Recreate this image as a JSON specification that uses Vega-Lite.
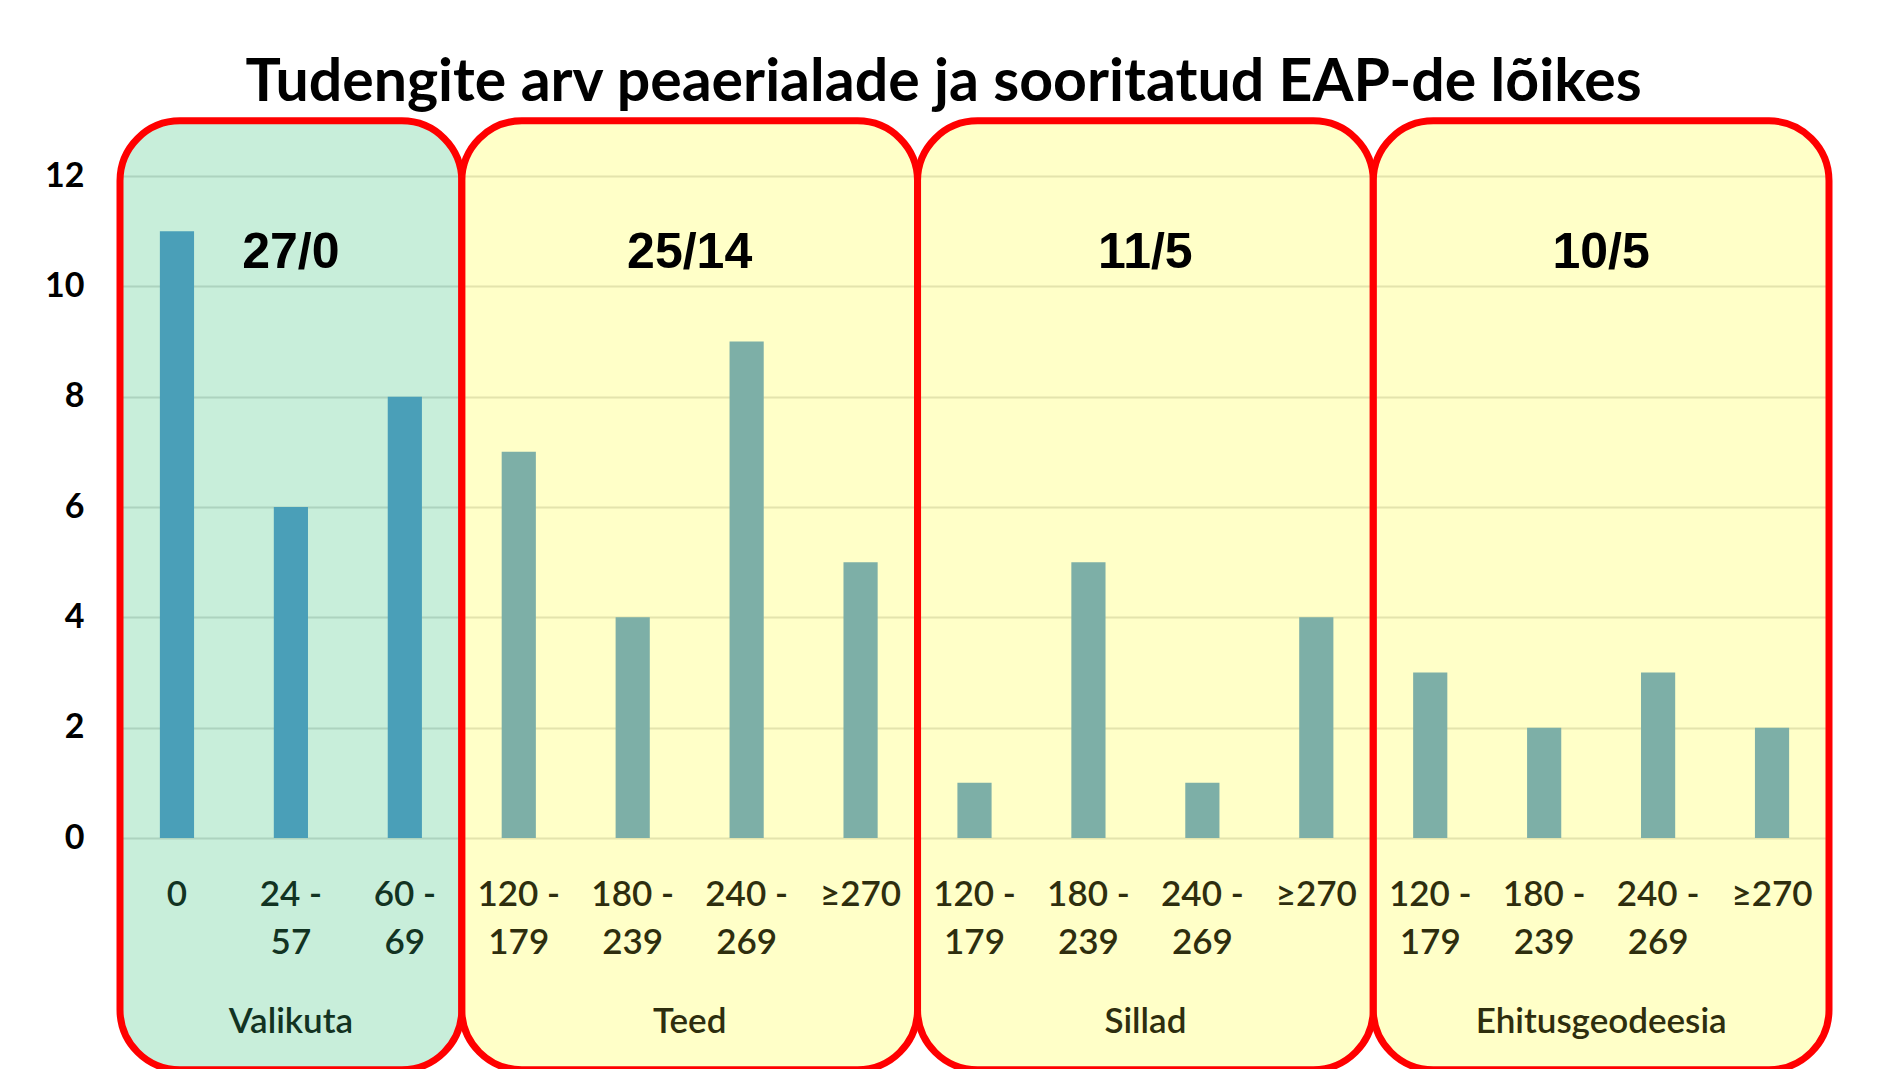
{
  "$schema": "https://vega.github.io/schema/vega-lite/v6.json",
  "autosize": "none",
  "width": 1709,
  "height": 662,
  "padding": {"left": 120, "top": 176, "right": 49, "bottom": 231},
  "background": "white",
  "config": {"view": {"stroke": null}},
  "title": {
    "text": "Tudengite arv peaerialade ja sooritatud EAP-de lõikes",
    "font": "Lato",
    "fontSize": 59,
    "fontWeight": "bold",
    "color": "#000000",
    "anchor": "middle",
    "frame": "bounds",
    "offset": 4,
    "dx": 5
  },
  "datasets": {
    "bars": [
      {"key": "a|0", "group": "Valikuta", "n": 11},
      {"key": "a|24 -|57", "group": "Valikuta", "n": 6},
      {"key": "a|60 -|69", "group": "Valikuta", "n": 8},
      {"key": "b|120 -|179", "group": "Teed", "n": 7},
      {"key": "b|180 -|239", "group": "Teed", "n": 4},
      {"key": "b|240 -|269", "group": "Teed", "n": 9},
      {"key": "b|≥270", "group": "Teed", "n": 5},
      {"key": "c|120 -|179", "group": "Sillad", "n": 1},
      {"key": "c|180 -|239", "group": "Sillad", "n": 5},
      {"key": "c|240 -|269", "group": "Sillad", "n": 1},
      {"key": "c|≥270", "group": "Sillad", "n": 4},
      {"key": "d|120 -|179", "group": "Ehitusgeodeesia", "n": 3},
      {"key": "d|180 -|239", "group": "Ehitusgeodeesia", "n": 2},
      {"key": "d|240 -|269", "group": "Ehitusgeodeesia", "n": 3},
      {"key": "d|≥270", "group": "Ehitusgeodeesia", "n": 2}
    ],
    "groups": [
      {"group": "Valikuta", "from": 0, "to": 3, "total": "27/0"},
      {"group": "Teed", "from": 3, "to": 7, "total": "25/14"},
      {"group": "Sillad", "from": 7, "to": 11, "total": "11/5"},
      {"group": "Ehitusgeodeesia", "from": 11, "to": 15, "total": "10/5"}
    ]
  },
  "resolve": {"scale": {"x": "independent"}, "axis": {"x": "independent"}},
  "layer": [
    {
      "data": {"name": "groups"},
      "mark": {"type": "rect", "stroke": "#FF0000", "strokeWidth": 7, "cornerRadius": 60, "fillOpacity": 0.5},
      "encoding": {
        "x": {"field": "from", "type": "quantitative", "scale": {"domain": [0, 15], "nice": false, "zero": false}, "axis": null},
        "x2": {"field": "to"},
        "y": {"datum": -4.2, "type": "quantitative", "scale": {"domain": [0, 12], "nice": false}},
        "y2": {"datum": 13.0},
        "fill": {"condition": {"test": "datum.group === 'Valikuta'", "value": "#91DDB5"}, "value": "#FFFF91"}
      }
    },
    {
      "data": {"name": "bars"},
      "mark": {"type": "bar"},
      "encoding": {
        "x": {
          "field": "key", "type": "nominal", "sort": null,
          "scale": {"paddingInner": 0.7, "paddingOuter": 0.35},
          "axis": {
            "title": null, "labelAngle": 0, "ticks": false, "domain": false,
            "labelExpr": "slice(split(datum.value, '|'), 1)",
            "labelFont": "Lato", "labelFontSize": 35, "labelFontWeight": 600,
            "labelLineHeight": 48, "labelBaseline": "alphabetic", "labelPadding": 67,
            "labelColor": {"condition": {"test": "substring(datum.value, 0, 1) === 'a'", "value": "#123322"}, "value": "#2E2E0E"},
            "zindex": 1
          }
        },
        "y": {
          "field": "n", "type": "quantitative",
          "scale": {"domain": [0, 12], "nice": false},
          "axis": {
            "title": null, "values": [0, 2, 4, 6, 8, 10, 12], "format": "d", "ticks": false, "domain": false,
            "grid": true, "gridColor": "#C8C8C8", "gridWidth": 2,
            "labelFont": "Lato", "labelFontSize": 34, "labelFontWeight": "bold", "labelColor": "#000000",
            "labelPadding": 36
          }
        },
        "color": {"condition": {"test": "datum.group === 'Valikuta'", "value": "#4A9FB8"}, "value": "#7DAFA7"}
      }
    },
    {
      "data": {"name": "groups"},
      "transform": [{"calculate": "(datum.from + datum.to) / 2", "as": "mid"}],
      "mark": {"type": "text", "font": "Liberation Sans", "fontSize": 50, "fontWeight": "bold", "color": "#000000", "baseline": "middle", "align": "center"},
      "encoding": {
        "x": {"field": "mid", "type": "quantitative", "scale": {"domain": [0, 15], "nice": false, "zero": false}, "axis": null},
        "y": {"datum": 10.6, "type": "quantitative"},
        "text": {"field": "total"}
      }
    },
    {
      "data": {"name": "groups"},
      "transform": [{"calculate": "(datum.from + datum.to) / 2", "as": "mid"}],
      "mark": {"type": "text", "font": "Lato", "fontSize": 35, "fontWeight": 600, "baseline": "alphabetic", "align": "center"},
      "encoding": {
        "x": {"field": "mid", "type": "quantitative", "scale": {"domain": [0, 15], "nice": false, "zero": false}, "axis": null},
        "y": {"datum": -3.53, "type": "quantitative"},
        "text": {"field": "group"},
        "color": {"condition": {"test": "datum.group === 'Valikuta'", "value": "#123322"}, "value": "#2E2E0E"}
      }
    }
  ]
}
